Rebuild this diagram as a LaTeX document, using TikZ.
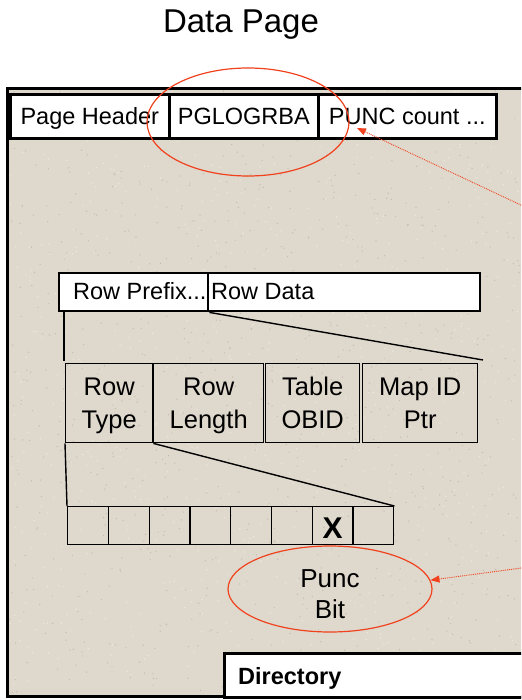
\documentclass[tikz,border=0pt]{standalone}
\usepackage{fontspec}
\setmainfont{Liberation Sans}
\usetikzlibrary{shapes.geometric,arrows.meta,calc}
\definecolor{pagebg}{RGB}{223,216,204}
\definecolor{speckdark}{RGB}{196,188,176}
\definecolor{specklight}{RGB}{236,231,223}
\definecolor{redline}{RGB}{240,66,30}
\begin{document}
\begin{tikzpicture}[x=1pt,y=-1pt,
  hcell/.style={draw, line width=2.6pt, fill=white, rectangle, inner sep=0pt, anchor=north west,
    minimum height=44pt, text height=17pt, text depth=1pt, font=\fontsize{23.5}{28}\selectfont},
  rcell/.style={draw, line width=2.4pt, fill=white, rectangle, inner sep=0pt, anchor=north west,
    minimum height=38pt},
  fcell/.style={draw, line width=1.4pt, rectangle, inner sep=0pt, anchor=north west,
    minimum height=79pt, align=center, text height=51.6pt, text depth=0.6pt,
    font=\fontsize{25.5}{33}\selectfont},
  bcell/.style={draw, line width=1.4pt, rectangle, inner sep=0pt, anchor=north west,
    minimum height=38pt, minimum width=40.75pt},
  lbl/.style={inner sep=0pt, anchor=base west, font=\fontsize{23.5}{28}\selectfont},
  conn/.style={line width=1.4pt},
  redoval/.style={draw=redline, line width=1.2pt, ellipse, inner sep=0pt},
  redarrow/.style={draw=redline, densely dotted, line width=0.9pt,
    -{Triangle[length=9pt,width=7pt,fill=redline]}}
]
\clip (0,0) rectangle (521,700);
\fill[white] (0,0) rectangle (521,700);

% title
\node[inner sep=0pt, anchor=base, font=\fontsize{33}{38}\selectfont] (title) at (241,33) {Data Page};

% page frame
\fill[pagebg] (7.5,88.5) rectangle (540,696.5);
\pgfmathsetseed{11}
\foreach \i in {1,...,900} {
  \pgfmathsetmacro\xx{9+rnd*512}
  \pgfmathsetmacro\yy{90+rnd*605}
  \fill[speckdark] (\xx,\yy) circle (0.7);
}
\foreach \i in {1,...,700} {
  \pgfmathsetmacro\xx{9+rnd*512}
  \pgfmathsetmacro\yy{90+rnd*605}
  \fill[specklight] (\xx,\yy) circle (0.8);
}
\draw[line width=3pt] (7.5,88.5) rectangle (540,696.5);

% header cells
\node[hcell, minimum width=159pt] (ph) at (9,93) {Page Header};
\node[hcell, minimum width=149pt] (pg) at (168,93) {PGLOGRBA};
\node[hcell, minimum width=178pt] (pc) at (317,93) {PUNC count ...};

% row
\node[rcell, minimum width=149pt] (rp) at (58,272) {};
\node[rcell, minimum width=272pt] (rd) at (207,272) {};
\node[lbl] (rpt) at (73,299) {Row Prefix...};
\node[lbl] (rdt) at (211,299) {Row Data};

% fields
\node[fcell, minimum width=87pt] (rt) at (65,363) {Row\\Type};
\node[fcell, minimum width=110pt] (rl) at (153,363) {Row\\Length};
\node[fcell, minimum width=94pt] (to) at (265,363) {Table\\OBID};
\node[fcell, minimum width=115pt] (mp) at (362,363) {Map ID\\Ptr};

% connectors row -> fields
\coordinate (c1) at (64,361);
\coordinate (c2) at (483,360);
\draw[conn] ([xshift=6pt]rp.south west) -- (c1);
\draw[conn] (rp.south east) -- (c2);

% bits
\foreach \i in {1,...,8} {
  \node[bcell] (b\i) at ({67+(\i-1)*40.75},506) {};
}
\node[inner sep=0pt, font=\bfseries\fontsize{30}{32}\selectfont] (bx) at ($(b7.center)+(0,2)$) {X};

% connectors fields -> bits
\draw[conn] (rt.south west) -- (b1.north west);
\draw[conn] (rt.south east) -- (b8.north east);

% red ovals
\node[redoval, minimum width=202pt, minimum height=108pt] (hl) at (248,122) {};
\node[redoval, minimum width=204pt, minimum height=86pt, align=center,
  text height=58pt, text depth=0pt,
  font=\fontsize{26}{31}\selectfont] (pb) at (330,589) {Punc\\Bit};

% red dotted arrows
\coordinate (s1) at (540,214);
\coordinate (t1) at (357,128);
\draw[redarrow] (s1) -- (t1);
\coordinate (s2) at (540,565.5);
\draw[redarrow] (s2) -- (pb.5);

% directory
\node[draw, line width=2.6pt, fill=white, rectangle, inner sep=0pt, anchor=north west,
  minimum width=320pt, minimum height=44pt] (dir) at (223,652) {};
\node[lbl, font=\bfseries\fontsize{23.5}{28}\selectfont] (dirt) at (238,684) {Directory};
\end{tikzpicture}
\end{document}
